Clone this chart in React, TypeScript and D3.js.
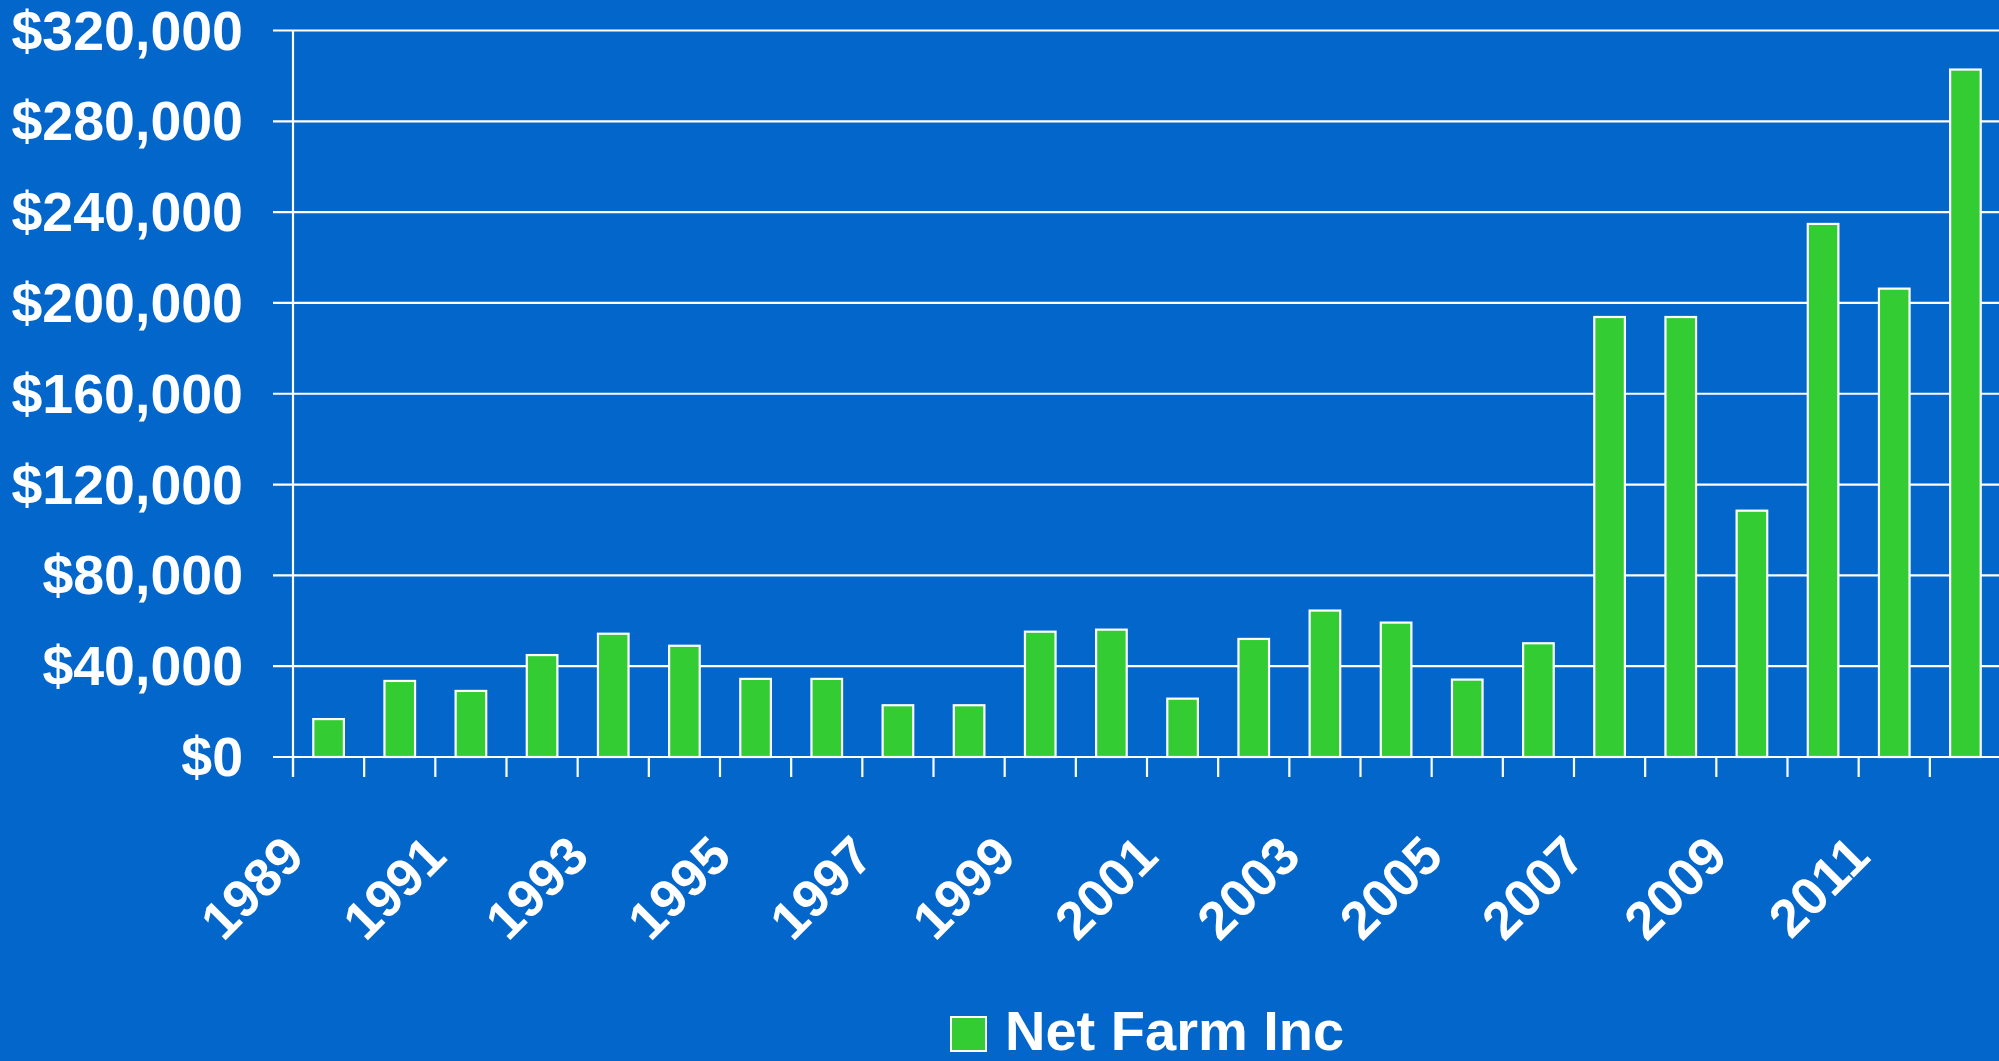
import React from "react";
import * as d3 from "d3";

const years: string[] = [
  "1989","1990","1991","1992","1993","1994","1995","1996","1997","1998","1999","2000",
  "2001","2002","2003","2004","2005","2006","2007","2008","2009","2010","2011","2012",
];
const netFarmIncome: number[] = [
  16700, 33500, 29100, 44900, 54300, 49000, 34400, 34400, 22800, 22800, 55200, 56100,
  25700, 52000, 64500, 59200, 34100, 50100, 193800, 193800, 108500, 234800, 206300, 302800,
];
const yTicks: number[] = [0, 40000, 80000, 120000, 160000, 200000, 240000, 280000, 320000];
const labeledYears: string[] = ["1989","1991","1993","1995","1997","1999","2001","2003","2005","2007","2009","2011"];
const seriesName = "Net Farm Inc";

const W = 1999;
const H = 1061;
const BG = "#0366CB";
const GREEN = "#33CC33";
const FONT = "'Liberation Sans', Arial, Helvetica, sans-serif";

export default function App() {
  const left = 293;
  const right = 2001;
  const top = 30.5;
  const bottom = 757;

  const x = d3.scaleBand<string>().domain(years).range([left, right]).paddingInner(0).paddingOuter(0);
  const y = d3.scaleLinear().domain([0, 320000]).range([bottom, top]);
  const bw = x.bandwidth();
  const barW = bw * 0.43;
  const fmt = (v: number) => "$" + d3.format(",")(v);

  const boundaries = years.map((yr) => x(yr) as number).concat([right]);

  return (
    <svg
      width={W}
      height={H}
      style={{ position: "absolute", left: 0, top: 0, display: "block", background: BG }}
    >
      <rect x={0} y={0} width={W} height={H} fill={BG} />
      {yTicks.map((t) => (
        <line key={"g" + t} x1={left - 20} x2={W} y1={y(t)} y2={y(t)} stroke="#fff" strokeWidth={2.2} />
      ))}
      <line x1={left} x2={left} y1={y(320000)} y2={bottom + 20} stroke="#fff" strokeWidth={2.2} />
      {boundaries.map((b, i) => (
        <line key={"t" + i} x1={b} x2={b} y1={bottom} y2={bottom + 20} stroke="#fff" strokeWidth={2.2} />
      ))}
      {years.map((yr, i) => {
        const cx = (x(yr) as number) + bw / 2;
        const v = netFarmIncome[i];
        return (
          <rect
            key={yr}
            x={cx - barW / 2}
            y={y(v)}
            width={barW}
            height={bottom - y(v)}
            fill={GREEN}
            stroke="#fff"
            strokeWidth={2.2}
          />
        );
      })}
      {yTicks.map((t) => (
        <text
          key={"yl" + t}
          x={243}
          y={y(t)}
          textAnchor="end"
          dominantBaseline="central"
          fill="#fff"
          fontFamily={FONT}
          fontWeight="bold"
          fontSize={55.5}
        >
          {fmt(t)}
        </text>
      ))}
      {labeledYears.map((yr) => {
        const cx = (x(yr) as number) + bw / 2;
        const ax = cx - 22;
        const ay = 859;
        return (
          <text
            key={"xl" + yr}
            x={ax}
            y={ay}
            transform={`rotate(-45 ${ax} ${ay})`}
            textAnchor="end"
            fill="#fff"
            fontFamily={FONT}
            fontWeight="bold"
            fontSize={53}
          >
            {yr}
          </text>
        );
      })}
      <rect x={951} y={1017} width={35} height={34} fill={GREEN} stroke="#fff" strokeWidth={2} />
      <text
        x={1005}
        y={1050}
        fill="#fff"
        fontFamily={FONT}
        fontWeight="bold"
        fontSize={56}
      >
        {seriesName}
      </text>
    </svg>
  );
}
